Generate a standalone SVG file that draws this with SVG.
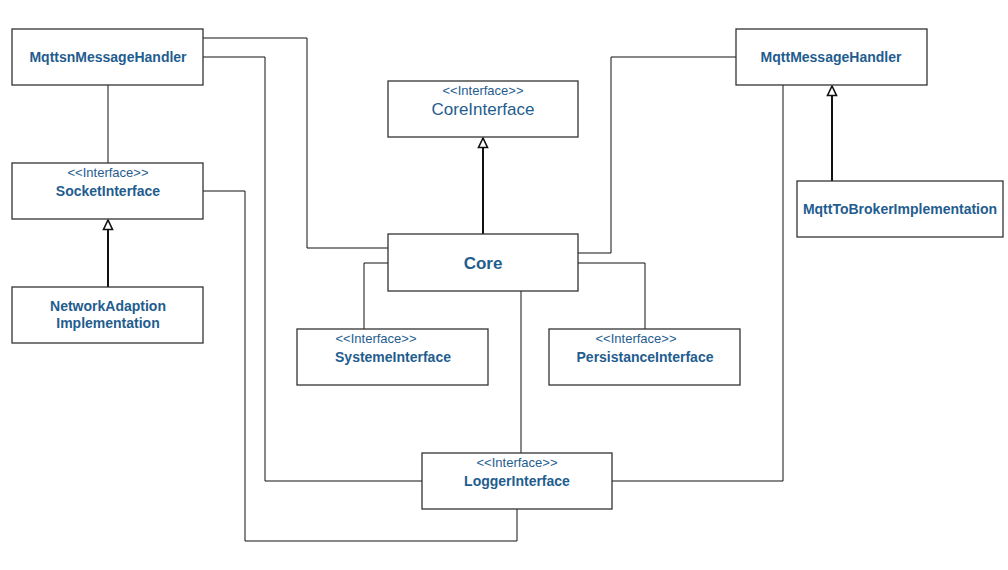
<svg xmlns="http://www.w3.org/2000/svg" width="1008" height="570" viewBox="0 0 1008 570">
<style>
.box{fill:#fff;stroke:#333;stroke-width:1.3}
.t{font-family:"Liberation Sans",Arial,sans-serif;fill:#1f5d8f;text-anchor:middle}
.b{font-weight:bold;font-size:14px}
.s{font-size:13px}
.big{font-size:17px}
.c{fill:none;stroke:#111;stroke-width:1}
.g{fill:none;stroke:#111;stroke-width:2}
</style>
<defs>
<marker id="tri" markerWidth="12" markerHeight="12" refX="11" refY="6" orient="auto" markerUnits="userSpaceOnUse" viewBox="0 0 12 12">
<path d="M11,6 L1.5,1.5 L1.5,10.5 Z" fill="#fff" stroke="#111" stroke-width="1.6" stroke-linejoin="miter"/>
</marker>
</defs>
<rect width="1008" height="570" fill="#fff"/>
<g id="connectors">
<path class="c" d="M108,85 V163"/>
<path class="c" d="M203,38 H307 V248 H388"/>
<path class="c" d="M203,57 H265 V481 H422"/>
<path class="c" d="M203,191 H245 V541 H517 V509"/>
<path class="c" d="M388,263 H364 V329"/>
<path class="c" d="M578,253 H611 V57 H736"/>
<path class="c" d="M578,263 H645 V329"/>
<path class="c" d="M521,291 V453"/>
<path class="c" d="M783,85 V481 H612"/>
<path class="g" d="M108,287 V220" marker-end="url(#tri)"/>
<path class="g" d="M483,234 V138" marker-end="url(#tri)"/>
<path class="g" d="M832,181 V86" marker-end="url(#tri)"/>
</g>
<g id="MqttsnMessageHandler">
<rect class="box" x="12" y="29" width="191" height="56"/>
<text class="t b" x="108" y="62">MqttsnMessageHandler</text>
</g>
<g id="SocketInterface">
<rect class="box" x="12" y="163" width="191" height="56"/>
<text class="t s" x="108" y="177">&lt;&lt;Interface&gt;&gt;</text>
<text class="t b" x="108" y="196">SocketInterface</text>
</g>
<g id="NetworkAdaptionImplementation">
<rect class="box" x="12" y="287" width="191" height="56"/>
<text class="t b" x="108" y="311">NetworkAdaption</text>
<text class="t b" x="108" y="328">Implementation</text>
</g>
<g id="CoreInterface">
<rect class="box" x="388" y="81" width="190" height="56"/>
<text class="t s" x="483" y="95">&lt;&lt;Interface&gt;&gt;</text>
<text class="t big" x="483" y="115">CoreInterface</text>
</g>
<g id="Core">
<rect class="box" x="388" y="234" width="190" height="57"/>
<text class="t big" font-weight="bold" x="483" y="269">Core</text>
</g>
<g id="MqttMessageHandler">
<rect class="box" x="736" y="29" width="191" height="56"/>
<text class="t b" x="831" y="62">MqttMessageHandler</text>
</g>
<g id="MqttToBrokerImplementation">
<rect class="box" x="797" y="181" width="206" height="56"/>
<text class="t b" x="900" y="214">MqttToBrokerImplementation</text>
</g>
<g id="SystemeInterface">
<rect class="box" x="297" y="329" width="191" height="56"/>
<text class="t s" x="376" y="343">&lt;&lt;Interface&gt;&gt;</text>
<text class="t b" x="393" y="362">SystemeInterface</text>
</g>
<g id="PersistanceInterface">
<rect class="box" x="549" y="329" width="191" height="56"/>
<text class="t s" x="636" y="343">&lt;&lt;Interface&gt;&gt;</text>
<text class="t b" x="645" y="362">PersistanceInterface</text>
</g>
<g id="LoggerInterface">
<rect class="box" x="422" y="453" width="190" height="56"/>
<text class="t s" x="517" y="467">&lt;&lt;Interface&gt;&gt;</text>
<text class="t b" x="517" y="486">LoggerInterface</text>
</g>
</svg>
